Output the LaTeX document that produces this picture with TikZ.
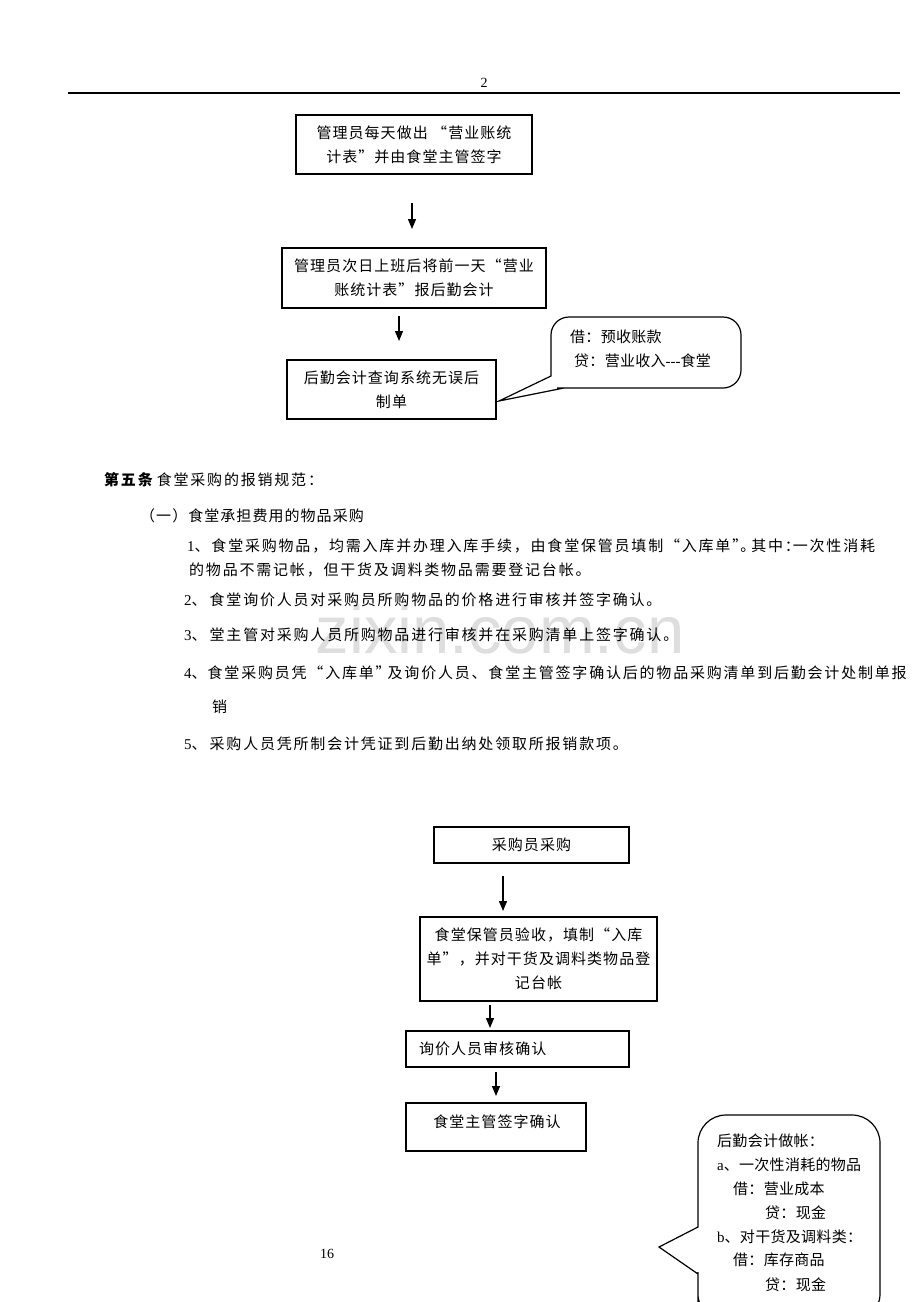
\documentclass[tikz,border=0pt]{standalone}
\usepackage{fontspec}
\setmainfont{Liberation Serif}
\newfontfamily\cjkA[LetterSpace=12]{Noto Sans CJK SC}
\newfontfamily\cjkB[LetterSpace=7]{Noto Sans CJK SC}
\newfontfamily\cjkC[LetterSpace=2]{Noto Sans CJK SC}
\newfontfamily\wmfont{Liberation Sans}
\usetikzlibrary{arrows.meta}
\begin{document}
\begin{tikzpicture}[x=1pt,y=-1pt,
  box/.style={draw, line width=1.2pt, inner sep=0pt, align=center, font=\cjkB\fontsize{15}{24}\selectfont},
  arr/.style={line width=1.3pt, -{Triangle[length=10pt,width=8pt]}},
  body/.style={anchor=west, inner sep=0pt, font=\cjkA\fontsize{15}{24}\selectfont},
  ctext/.style={anchor=west, inner sep=0pt, font=\cjkC\fontsize{15}{24}\selectfont},
  pnum/.style={inner sep=0pt, font=\rmfamily\fontsize{14}{16}\selectfont},
  callout/.style={line width=1.2pt}]
\useasboundingbox (0,0) rectangle (920,1302);
\fill[white] (0,0) rectangle (920,1302);

% watermark
\node[inner sep=0pt, text=black!13, font=\wmfont\fontsize{67}{70}\selectfont] (wm) at (500,630) {zixin.com.cn};

% header
\node[pnum] (pg2) at (484,83) {2};
\coordinate (hl) at (68,93);
\coordinate (hr) at (900,93);
\draw[line width=1.2pt] (hl) -- (hr);

% top flow
\node[box, minimum width=236pt, minimum height=59pt] (b1) at (414,144.5) {管理员每天做出 “营业账统\\计表”并由食堂主管签字};
\node[box, minimum width=264pt, minimum height=60pt] (b2) at (414,278) {管理员次日上班后将前一天“营业\\账统计表”报后勤会计};
\node[box, minimum width=209pt, minimum height=59pt] (b3) at (391.5,389.5) {后勤会计查询系统无误后\\制单};
\coordinate (a1s) at (412,203);
\coordinate (a1e) at (412,229);
\coordinate (a2s) at (399,316);
\coordinate (a2e) at (399,341);
\draw[arr] (a1s) -- (a1e);
\draw[arr] (a2s) -- (a2e);

% callout 1
\coordinate (t1) at (499,401);
\draw[callout] (t1) -- (551,376) -- (551,350) [rounded corners=18pt] -- (551,317) -- (741,317) -- (741,388) -- (575,388) [sharp corners] -- (564,388) -- cycle;
\node[ctext] (c1a) at (570,337) {借：预收账款};
\node[ctext] (c1b) at (574,361) {贷：营业收入{\rmfamily -{}-{}-}食堂};

% text body
\node[body] (t5) at (104,480) {{\bfseries 第五条}\hspace{4pt}食堂采购的报销规范：};
\node[body, font=\cjkB\fontsize{15}{24}\selectfont] (ty) at (140,516) {（一）食堂承担费用的物品采购};
\node[body] (i1a) at (187,546) {{\rmfamily 1}、食堂采购物品，均需入库并办理入库手续，由食堂保管员填制“入库单”\hspace{-7pt}。\hspace{-4pt}其中：\hspace{-7pt}一次性消耗};
\node[body] (i1b) at (189,570) {的物品不需记帐，但干货及调料类物品需要登记台帐。};
\node[body] (i2) at (184,600) {{\rmfamily 2}、\hspace{3pt}食堂询价人员对采购员所购物品的价格进行审核并签字确认。};
\node[body] (i3) at (184,635) {{\rmfamily 3}、\hspace{3pt}堂主管对采购人员所购物品进行审核并在采购清单上签字确认。};
\node[body] (i4a) at (184,673) {{\rmfamily 4}、\hspace{1pt}食堂采购员凭“入库单”\hspace{-3pt}及询价人员、食堂主管签字确认后的物品采购清单到后勤会计处制单报};
\node[body] (i4b) at (212,707) {销};
\node[body] (i5) at (184,744) {{\rmfamily 5}、\hspace{3pt}采购人员凭所制会计凭证到后勤出纳处领取所报销款项。};

% bottom flow
\node[box, minimum width=195pt, minimum height=36pt] (bA) at (531.5,845) {采购员采购};
\node[box, minimum width=237pt, minimum height=84pt] (bB) at (538.5,959) {食堂保管员验收，填制“入库\\单”，并对干货及调料类物品登\\记台帐};
\node[box, inner xsep=13pt, text width=197pt, minimum height=36pt, align=left] (bC) at (517.5,1049) {询价人员审核确认};
\node[box, minimum width=180pt, minimum height=48pt] (bD) at (496,1127) {};
\node[box, draw=none] (bDt) at (497,1122) {食堂主管签字确认};
\coordinate (a3s) at (503,876);
\coordinate (a3e) at (503,911);
\coordinate (a4s) at (490,1005);
\coordinate (a4e) at (490,1028);
\coordinate (a5s) at (496,1072);
\coordinate (a5e) at (496,1096);
\draw[arr] (a3s) -- (a3e);
\draw[arr] (a4s) -- (a4e);
\draw[arr] (a5s) -- (a5e);

\node[pnum] (pg16) at (327,1254) {16};

% callout 2
\coordinate (t2) at (659,1247);
\draw[callout] (t2) -- (698,1227) -- (698,1190) [rounded corners=28pt] -- (698,1115) -- (880,1115) -- (880,1322) -- (698,1322) -- (698,1300) [sharp corners] -- (698,1274) -- cycle;
\node[ctext] (c2a) at (717,1141) {后勤会计做帐：};
\node[ctext] (c2b) at (717,1165) {{\rmfamily a}、一次性消耗的物品};
\node[ctext] (c2c) at (733,1189) {借：营业成本};
\node[ctext] (c2d) at (765,1213) {贷：现金};
\node[ctext] (c2e) at (717,1237) {{\rmfamily b}、对干货及调料类：};
\node[ctext] (c2f) at (733,1260) {借：库存商品};
\node[ctext] (c2g) at (765,1285) {贷：现金};
\end{tikzpicture}
\end{document}
